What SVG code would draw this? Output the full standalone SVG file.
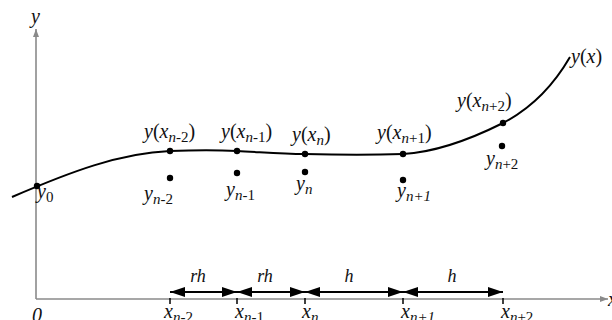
<svg xmlns="http://www.w3.org/2000/svg" width="612" height="320" viewBox="0 0 612 320" font-family="'Liberation Serif','Times New Roman',serif">
<defs>
<style>
text{font-family:"Liberation Serif","Times New Roman",serif;font-size:20px;fill:#111}
.i{font-style:italic}
.s{font-size:15px}
.d{font-size:18px;font-style:italic}
.axis{stroke:#8a8a8a;stroke-width:1.6;fill:none}
.curve{stroke:#000;stroke-width:2;fill:none}
.dim{stroke:#000;stroke-width:2;fill:none;marker-start:url(#ah);marker-end:url(#ah)}
.tick{stroke:#000;stroke-width:1.5}
.dot{fill:#000}
</style>
<marker id="ah" viewBox="0 0 15 10" refX="15" refY="5" markerWidth="15" markerHeight="10" markerUnits="userSpaceOnUse" orient="auto-start-reverse">
<path d="M0,0 L15,5 L0,10 Z" fill="#000"/>
</marker>
<marker id="ax" viewBox="0 0 8 6" refX="8" refY="3" markerWidth="8" markerHeight="6" markerUnits="userSpaceOnUse" orient="auto">
<path d="M0,0 L8,3 L0,6 Z" fill="#8a8a8a"/>
</marker>
</defs>
<g id="axes">
<line class="axis" x1="36" y1="299" x2="36" y2="29" marker-end="url(#ax)"/>
<line class="axis" x1="36" y1="299" x2="608" y2="299" marker-end="url(#ax)"/>
<text class="i" x="31" y="23">y</text>
<text class="i" x="608" y="306">x</text>
<text class="i" x="32" y="322">0</text>
</g>
<g id="connectors">
<path id="curve" class="curve" d="M12,197 C70,172 120,153 170,151 C200,150 215,150 237,151 C260,152 280,154 305,154 C340,155 375,155 403,154 C440,152 475,137 503,123 C530,109 552,88 570,57"/>
<line class="dim" x1="170" y1="292" x2="237" y2="292"/>
<line class="dim" x1="237" y1="292" x2="305" y2="292"/>
<line class="dim" x1="305" y1="292" x2="403" y2="292"/>
<line class="dim" x1="403" y1="292" x2="503" y2="292"/>
</g>
<g id="ticks">
<line class="tick" x1="170" y1="298" x2="170" y2="304"/>
<line class="tick" x1="237" y1="298" x2="237" y2="304"/>
<line class="tick" x1="305" y1="298" x2="305" y2="304"/>
<line class="tick" x1="403" y1="298" x2="403" y2="304"/>
<line class="tick" x1="503" y1="298" x2="503" y2="304"/>
</g>
<g id="dim-labels">
<text class="d" x="198" y="282" text-anchor="middle">rh</text>
<text class="d" x="265" y="282" text-anchor="middle">rh</text>
<text class="d" x="349" y="282" text-anchor="middle">h</text>
<text class="d" x="452" y="282" text-anchor="middle">h</text>
</g>
<g id="node-y0">
<circle class="dot" cx="37" cy="186" r="3.2"/>
<text x="37" y="198"><tspan class="i">y</tspan><tspan class="s" dy="4">0</tspan></text>
</g>
<g id="node-n-2">
<circle class="dot" cx="170" cy="151" r="3.2"/>
<circle class="dot" cx="170" cy="178" r="3.2"/>
<text x="144" y="138"><tspan class="i">y</tspan>(<tspan class="i">x</tspan><tspan class="s" dy="4"><tspan class="i">n</tspan>-2</tspan><tspan dy="-4">)</tspan></text>
<text x="144" y="200"><tspan class="i">y</tspan><tspan class="s" dy="4"><tspan class="i">n</tspan>-2</tspan></text>
</g>
<g id="node-n-1">
<circle class="dot" cx="237" cy="151" r="3.2"/>
<circle class="dot" cx="237" cy="173" r="3.2"/>
<text x="221" y="138"><tspan class="i">y</tspan>(<tspan class="i">x</tspan><tspan class="s" dy="4"><tspan class="i">n</tspan>-1</tspan><tspan dy="-4">)</tspan></text>
<text x="226" y="196"><tspan class="i">y</tspan><tspan class="s" dy="4"><tspan class="i">n</tspan>-1</tspan></text>
</g>
<g id="node-n">
<circle class="dot" cx="305" cy="154" r="3.2"/>
<circle class="dot" cx="305" cy="172" r="3.2"/>
<text x="292" y="141"><tspan class="i">y</tspan>(<tspan class="i">x</tspan><tspan class="s i" dy="4">n</tspan><tspan dy="-4">)</tspan></text>
<text x="296" y="190"><tspan class="i">y</tspan><tspan class="s i" dy="4">n</tspan></text>
</g>
<g id="node-n+1">
<circle class="dot" cx="403" cy="154" r="3.2"/>
<circle class="dot" cx="403" cy="180" r="3.2"/>
<text x="377" y="139"><tspan class="i">y</tspan>(<tspan class="i">x</tspan><tspan class="s" dy="4"><tspan class="i">n</tspan>+1</tspan><tspan dy="-4">)</tspan></text>
<text x="397" y="197"><tspan class="i">y</tspan><tspan class="s i" dy="4">n+1</tspan></text>
</g>
<g id="node-n+2">
<circle class="dot" cx="503" cy="123" r="3.2"/>
<circle class="dot" cx="502" cy="146" r="3.2"/>
<text x="457" y="107"><tspan class="i">y</tspan>(<tspan class="i">x</tspan><tspan class="s" dy="4"><tspan class="i">n</tspan>+2</tspan><tspan dy="-4">)</tspan></text>
<text x="486" y="165"><tspan class="i">y</tspan><tspan class="s" dy="4"><tspan class="i">n</tspan>+2</tspan></text>
</g>
<g id="label-yx">
<text x="571" y="63"><tspan class="i">y</tspan>(<tspan class="i">x</tspan>)</text>
</g>
<g id="x-labels">
<text x="164" y="318"><tspan class="i">x</tspan><tspan class="s" dy="4"><tspan class="i">n</tspan>-2</tspan></text>
<text x="235" y="318"><tspan class="i">x</tspan><tspan class="s" dy="4"><tspan class="i">n</tspan>-1</tspan></text>
<text x="302" y="318"><tspan class="i">x</tspan><tspan class="s i" dy="4">n</tspan></text>
<text x="401" y="318"><tspan class="i">x</tspan><tspan class="s i" dy="4">n+1</tspan></text>
<text x="501" y="318"><tspan class="i">x</tspan><tspan class="s" dy="4"><tspan class="i">n</tspan>+2</tspan></text>
</g>
</svg>
